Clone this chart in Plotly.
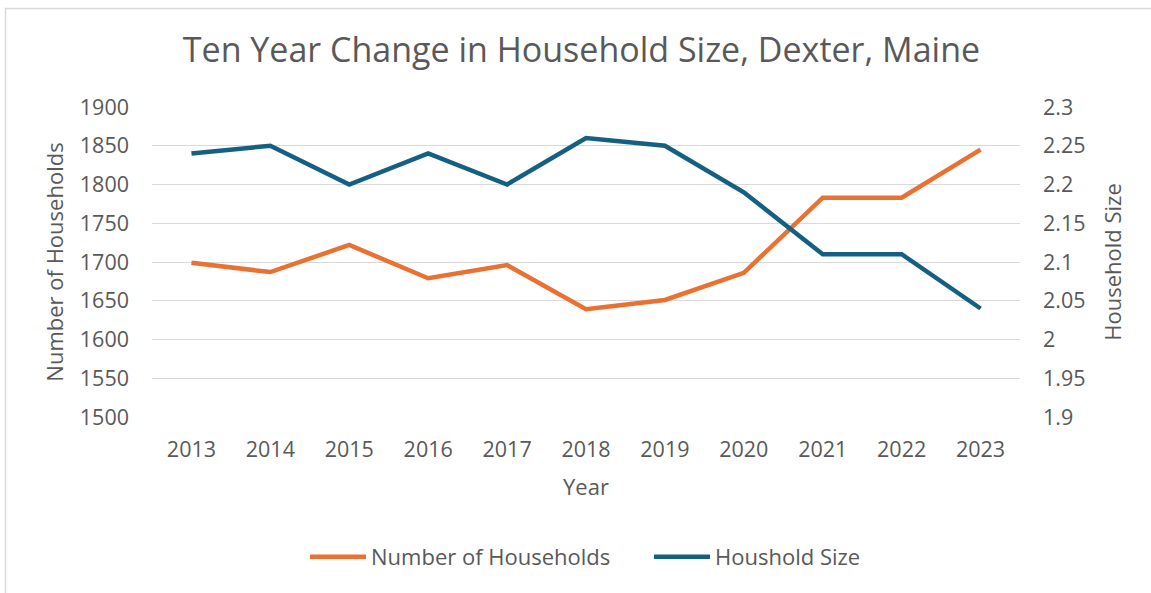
import plotly.graph_objects as go

years = ["2013", "2014", "2015", "2016", "2017", "2018", "2019", "2020", "2021", "2022", "2023"]
households = [1699, 1687, 1722, 1679, 1696, 1639, 1651, 1686, 1783, 1783, 1845]
household_size = [2.24, 2.25, 2.20, 2.24, 2.20, 2.26, 2.25, 2.19, 2.11, 2.11, 2.04]

left_ticks = [1500, 1550, 1600, 1650, 1700, 1750, 1800, 1850, 1900]
right_ticks = [1.9, 1.95, 2.0, 2.05, 2.1, 2.15, 2.2, 2.25, 2.3]
right_tick_text = ["1.9", "1.95", "2", "2.05", "2.1", "2.15", "2.2", "2.25", "2.3"]

ORANGE = "#E97132"
BLUE = "#156082"
TEXT = "#595959"
GRID = "#D9D9D9"
FONT = "Open Sans"

W, H = 1151, 593
ML, MR, MT, MB = 152, 131, 107, 176
PW, PH = W - ML - MR, H - MT - MB

def px_x(p):
    return (p - ML) / PW

def px_y(p):
    return (H - MB - p) / PH

fig = go.Figure()
fig.add_trace(go.Scatter(x=years, y=households, name="Number of Households",
                         mode="lines", line=dict(color=ORANGE, width=4.5), yaxis="y"))
fig.add_trace(go.Scatter(x=years, y=household_size, name="Houshold Size",
                         mode="lines", line=dict(color=BLUE, width=4.5), yaxis="y2"))

TICK = 21.5
fig.update_layout(
    width=W, height=H,
    margin=dict(l=ML, r=MR, t=MT, b=MB),
    paper_bgcolor="white", plot_bgcolor="white",
    font=dict(family=FONT, color=TEXT, size=TICK),
    title=dict(text="Ten Year Change in Household Size, Dexter, Maine",
               x=px_x(581.5), xref="paper", xanchor="center",
               y=1 - 50 / H, yanchor="middle",
               font=dict(family=FONT, size=34, color=TEXT)),
    xaxis=dict(type="category", range=[-0.5, len(years) - 0.5], showgrid=False,
               showline=False, zeroline=False,
               ticks="", tickfont=dict(size=TICK, color=TEXT), ticklabelstandoff=17,
               title=dict(text="Year", font=dict(size=22, color=TEXT), standoff=18)),
    yaxis=dict(range=[1500, 1900], tickvals=left_ticks, showgrid=True, gridcolor=GRID,
               gridwidth=1.3, zeroline=False, showline=False, ticks="",
               tickfont=dict(size=TICK, color=TEXT), ticklabelstandoff=22,
               title=dict(text="Number of Households", font=dict(size=22, color=TEXT), standoff=10)),
    yaxis2=dict(range=[1.9, 2.3], tickvals=right_ticks, ticktext=right_tick_text,
                overlaying="y", side="right", showgrid=False, zeroline=False, showline=False,
                ticks="", tickfont=dict(size=TICK, color=TEXT), ticklabelstandoff=22,
                title=dict(text="Household Size", font=dict(size=22, color=TEXT), standoff=21)),
    legend=dict(orientation="h", x=px_x(305), xanchor="left", y=px_y(557), yanchor="middle",
                font=dict(size=22, color=TEXT), itemwidth=56,
                entrywidth=273, entrywidthmode="pixels", bgcolor="rgba(0,0,0,0)"),
    showlegend=True,
    shapes=[dict(type="rect", xref="paper", yref="paper",
                 x0=px_x(5.5), x1=px_x(1200), y0=px_y(700), y1=px_y(8.5),
                 line=dict(color="#D9D9D9", width=1.5), fillcolor="rgba(0,0,0,0)", layer="below")],
)

fig.write_html("out.html", config={"displayModeBar": False},
               post_script="document.body.style.margin='0';document.body.style.overflow='hidden';")
